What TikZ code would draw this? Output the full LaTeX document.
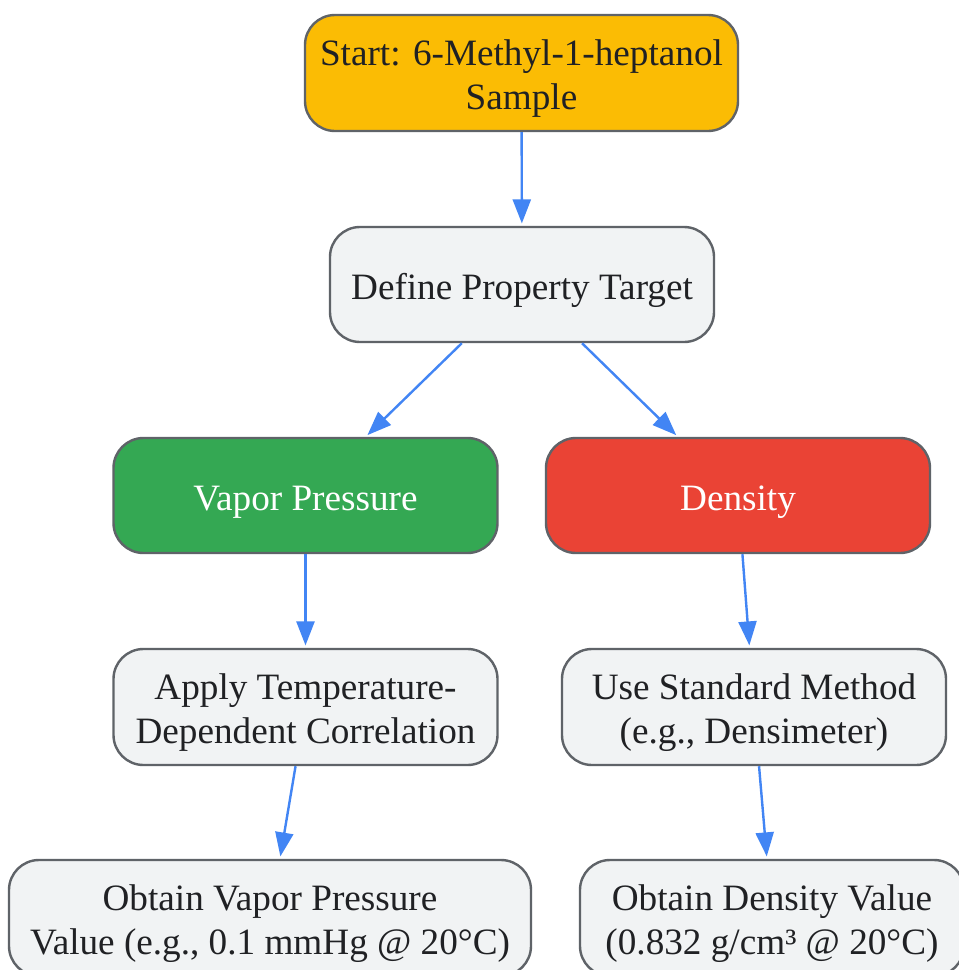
\documentclass[tikz,border=0pt]{standalone}
\usepackage{fontspec}
\setmainfont{Liberation Serif}
\usetikzlibrary{arrows.meta}

\definecolor{linec}{HTML}{5F6368}
\definecolor{boxc}{HTML}{F1F3F4}
\definecolor{txtc}{HTML}{202124}
\definecolor{startc}{HTML}{FBBC04}
\definecolor{vapc}{HTML}{34A853}
\definecolor{denc}{HTML}{EA4335}
\definecolor{arrc}{HTML}{4285F4}

% text set a little lower inside its box, box size kept
\newcommand{\boxtext}[1]{\raisebox{-3pt}[\height][\depth]{\begin{tabular}{@{}c@{}}#1\end{tabular}}}

\begin{document}
\begin{tikzpicture}[x=0.5pt, y=-0.5pt,
    box/.style={draw=linec, line width=1.2pt, rounded corners=15pt, fill=boxc, text=txtc,
        minimum width=192pt, minimum height=57.5pt, inner sep=0pt,
        font=\fontsize{18.6}{22}\selectfont},
    arr/.style={-{Triangle[length=12pt, width=9pt]}, line width=1.2pt, draw=arrc, shorten >=1.2pt}]
            \clip (0,0) rectangle (959,970);
            \fill[white] (0,0) rectangle (959,970);

            \node[box, fill=startc, minimum width=216.5pt, minimum height=58pt] (S) at (521.5,73) {\boxtext{Start: 6-Methyl-1-heptanol\\Sample}};
            \node[box] (T) at (522,284.5) {\boxtext{Define Property Target}};
            \node[box, fill=vapc, text=white] (VP) at (305.5,495.5) {\boxtext{Vapor Pressure}};
            \node[box, fill=denc, text=white] (DN) at (738,495.5) {\boxtext{Density}};
            \node[box, minimum height=58pt] (AC) at (305.5,707) {\boxtext{Apply Temperature-\\Dependent Correlation}};
            \node[box, minimum height=58pt] (SM) at (754,707) {\boxtext{Use Standard Method\\(e.g., Densimeter)}};
            \node[box, minimum width=261pt, minimum height=58pt] (OV) at (270,918) {\boxtext{Obtain Vapor Pressure\\Value (e.g., 0.1 mmHg @ 20°C)}};
            \node[box, minimum height=58pt] (OD) at (772,918) {\boxtext{Obtain Density Value\\(0.832 g/cm³ @ 20°C)}};

            \draw[arr] (S) -- (T);
            \draw[arr] (T) -- (VP);
            \draw[arr] (T) -- (DN);
            \draw[arr] (VP) -- (AC);
            \draw[arr] (DN) -- (SM);
            \draw[arr] (AC) -- (OV);
            \draw[arr] (SM) -- (OD);
        \end{tikzpicture}
\end{document}
